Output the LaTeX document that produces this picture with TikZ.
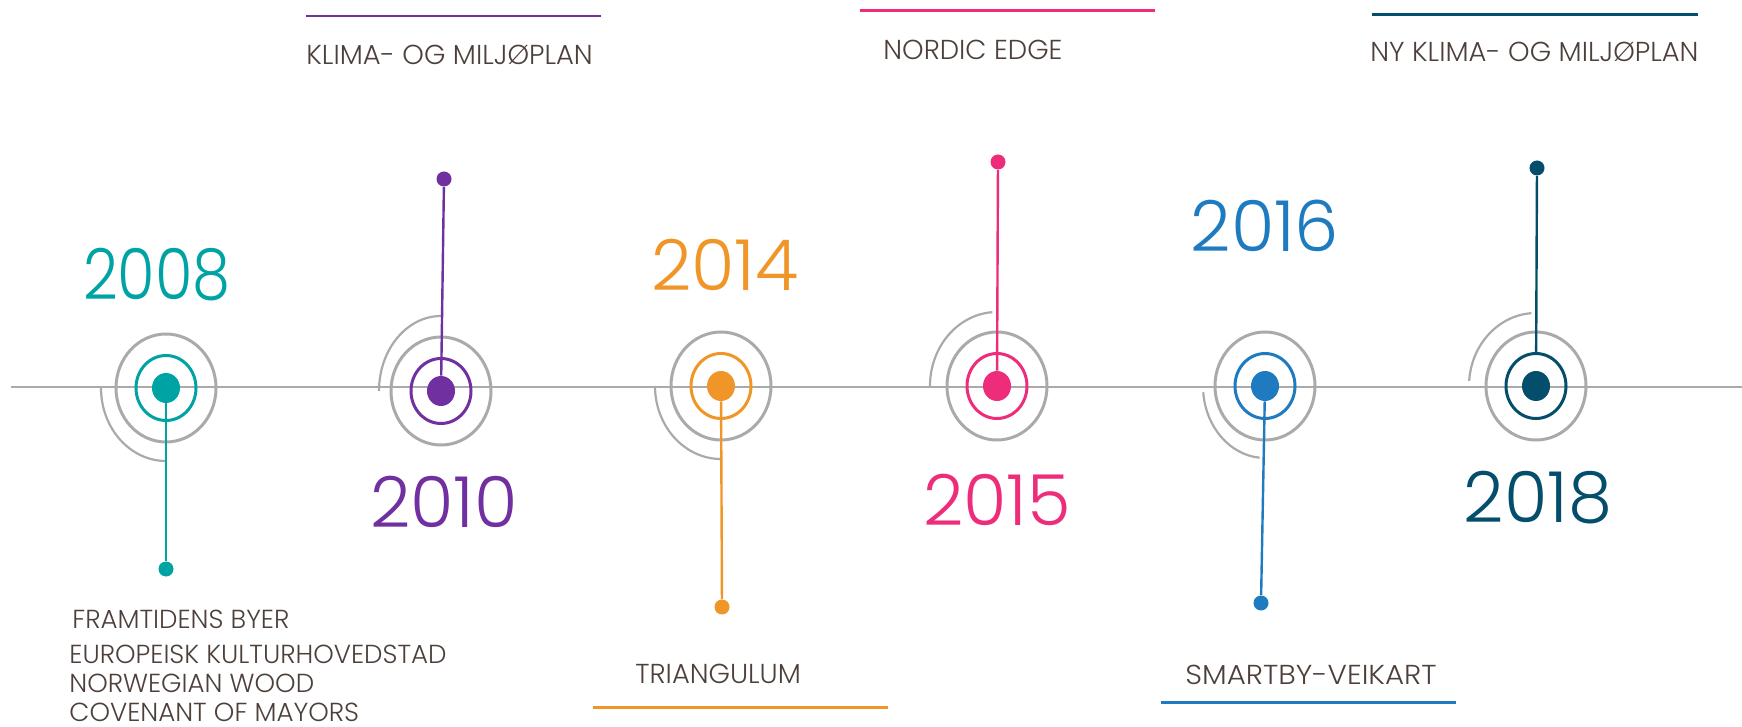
\documentclass[tikz,border=0pt]{standalone}
\usepackage{fontspec}
\setmainfont{Poppins Light}
\usetikzlibrary{shapes.geometric}
\definecolor{c08}{RGB}{0,163,163}
\definecolor{c10}{RGB}{112,48,160}
\definecolor{c14}{RGB}{240,150,40}
\definecolor{c15}{RGB}{238,45,122}
\definecolor{c16}{RGB}{30,123,192}
\definecolor{c18}{RGB}{4,78,108}
\definecolor{ringgray}{RGB}{170,170,170}
\definecolor{txt}{RGB}{77,64,58}
\newcommand{\yearfont}{\fontsize{32}{36}\selectfont}
\newcommand{\labelfont}{\fontsize{13.7}{16}\selectfont}
\newcommand{\listfont}{\fontsize{13.05}{15}\selectfont}
\newcommand{\tallyear}[2][1.1]{\scalebox{#1}[1.1]{#2}}

\begin{document}
\begin{tikzpicture}[x=0.5pt,y=-0.5pt]
	\useasboundingbox (0,0) rectangle (1742,727);
	\tikzset{dot/.style = {ellipse,fill=#1,minimum width=14pt,minimum height=15pt,inner sep=0pt}}
	\tikzset{ring/.style = {ellipse,draw=#1,line width=1.5pt,minimum width=30pt,minimum height=32.5pt,inner sep=0pt}}
	\tikzset{halo/.style = {ellipse,draw=ringgray,line width=1.5pt,minimum width=50pt,minimum height=54pt,inner sep=0pt}}
	\tikzset{tip/.style = {circle,fill=#1,minimum size=7.5pt,inner sep=0pt}}
	\tikzset{year/.style = {text=#1,inner sep=0pt,font=\yearfont}}
	\tikzstyle{stem} = [line width=1.2pt]
	\tikzstyle{wave} = [ringgray,line width=1.1pt]
	\tikzstyle{caption} = [text=txt,inner sep=0pt,anchor=base west,font=\labelfont]
	\tikzstyle{listitem} = [text=txt,inner sep=0pt,anchor=base west,font=\listfont]
	\tikzstyle{rule} = [line width=1.4pt]
	%axis
	\coordinate (a0) at (11,387);
	\coordinate (a1) at (1742,387);
	\draw[ringgray,line width=1.1pt] (a0) -- (a1);
	%2008
	\node[halo] (h08) at (166,388) {};
	\draw[wave] (h08.center) ++(-65,0) arc[start angle=180,end angle=90,x radius=65,y radius=73];
	\node[ring=c08] (r08) at (166,388) {};
	\node[dot=c08] (d08) at (166,388) {};
	\node[tip=c08] (t08) at (166,569) {};
	\draw[stem,c08] (d08) -- (t08);
	\node[year=c08] (y08) at (157,274.5) {\tallyear[0.95]{2008}};
	\node[listitem] (l08a) at (72,628) {FRAMTIDENS BYER};
	\node[listitem] (l08b) at (69,663) {EUROPEISK KULTURHOVEDSTAD};
	\node[listitem] (l08c) at (69,692) {NORWEGIAN WOOD};
	\node[listitem] (l08d) at (69,721) {COVENANT OF MAYORS};
	%2010
	\node[halo] (h10) at (441,391) {};
	\draw[wave] (h10.center) ++(-62,0) arc[start angle=180,end angle=270,x radius=62,y radius=75];
	\node[ring=c10] (r10) at (441,391) {};
	\node[dot=c10] (d10) at (441,391) {};
	\node[tip=c10] (t10) at (444,179) {};
	\draw[stem,c10] (d10) -- (t10);
	\node[year=c10] (y10) at (444,502) {\tallyear{2010}};
	\draw[rule,c10] (306,16) -- (601,16);
	\node[caption] (l10) at (306,65) {KLIMA- OG MILJØPLAN};
	%2014
	\node[halo] (h14) at (721,386) {};
	\draw[wave] (h14.center) ++(-66,0) arc[start angle=180,end angle=90,x radius=66,y radius=73];
	\node[ring=c14] (r14) at (721,386) {};
	\node[dot=c14] (d14) at (721,386) {};
	\node[tip=c14] (t14) at (722,607) {};
	\draw[stem,c14] (d14) -- (t14);
	\node[year=c14] (y14) at (725,264.5) {\tallyear{2014}};
	\node[caption] (l14) at (635,683.3) {TRIANGULUM};
	\draw[rule,c14] (593,707.7) -- (888,707.7);
	%2015
	\node[halo] (h15) at (997,386) {};
	\draw[wave] (h15.center) ++(-67,0) arc[start angle=180,end angle=266,x radius=67,y radius=74];
	\node[ring=c15] (r15) at (997,386) {};
	\node[dot=c15] (d15) at (997,386) {};
	\node[tip=c15] (t15) at (998,162) {};
	\draw[stem,c15] (d15) -- (t15);
	\node[year=c15] (y15) at (997,500) {\tallyear{2015}};
	\draw[rule,c15] (860,10.7) -- (1155,10.7);
	\node[caption] (l15) at (883,59.3) {NORDIC EDGE};
	%2016
	\node[halo] (h16) at (1265,386) {};
	\draw[wave] (h16.center) ++(175:62 and 72) arc[start angle=175,end angle=95,x radius=62,y radius=72];
	\node[ring=c16] (r16) at (1265,386) {};
	\node[dot=c16] (d16) at (1265,386) {};
	\node[tip=c16] (t16) at (1261,603) {};
	\draw[stem,c16] (d16) -- (t16);
	\node[year=c16] (y16) at (1265,225.5) {\tallyear{2016}};
	\node[caption] (l16) at (1185,684) {\scalebox{1.07}[1]{SMARTBY-VEIKART}};
	\draw[rule,c16] (1161,702.3) -- (1456,702.3);
	%2018
	\node[halo] (h18) at (1536,386) {};
	\draw[wave] (h18.center) ++(184:67 and 73) arc[start angle=184,end angle=266,x radius=67,y radius=73];
	\node[ring=c18] (r18) at (1536,386) {};
	\node[dot=c18] (d18) at (1536,386) {};
	\node[tip=c18] (t18) at (1537,168) {};
	\draw[stem,c18] (r18) -- (t18);
	\node[year=c18] (y18) at (1538,498) {\tallyear{2018}};
	\draw[rule,c18] (1372,14.4) -- (1698,14.4);
	\node[caption] (l18) at (1370,62) {NY KLIMA- OG MILJØPLAN};
\end{tikzpicture}
\end{document}
